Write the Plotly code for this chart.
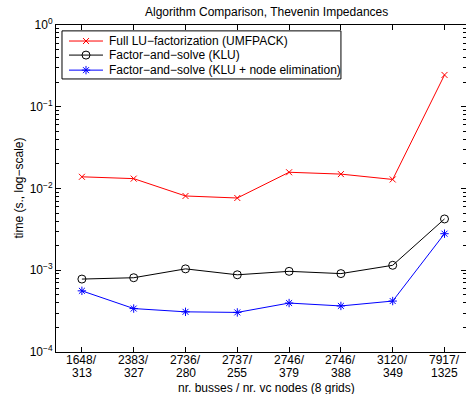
import plotly.graph_objects as go

busses = ["1648/", "2383/", "2736/", "2737/", "2746/", "2746/", "3120/", "7917/"]
vc_nodes = ["313", "327", "280", "255", "379", "388", "349", "1325"]
umfpack = [0.0139, 0.0132, 0.0081, 0.00765, 0.0158, 0.0150, 0.0129, 0.245]
klu = [0.00078, 0.00081, 0.00104, 0.00088, 0.00097, 0.00091, 0.00115, 0.00424]
klu_elim = [0.00056, 0.00034, 0.00031, 0.000305, 0.000397, 0.000366, 0.00042, 0.0028]
series_names = ["Full LU\u2212factorization (UMFPACK)",
                "Factor\u2212and\u2212solve (KLU)",
                "Factor\u2212and\u2212solve (KLU + node elimination)"]
series_colors = ["#ff0000", "#000000", "#0000ff"]
series_symbols = ["x-thin-open", "circle-open", "asterisk-open"]
series_sizes = [6, 8, 7]
ytick_vals = [1e-4, 1e-3, 1e-2, 1e-1, 1]
ytick_text = ["10<sup>\u22124</sup>", "10<sup>\u22123</sup>", "10<sup>\u22122</sup>",
              "10<sup>\u22121</sup>", "10<sup>0</sup>"]
title_text = "Algorithm Comparison, Thevenin Impedances"
xtitle = "nr. busses / nr. vc nodes (8 grids)"
ytitle = "time (s., log\u2212scale)"

xpos = list(range(1, len(busses) + 1))
minor_vals = [m * 10 ** e for e in range(-4, 0) for m in range(2, 10)]
series_values = [umfpack, klu, klu_elim]

fig = go.Figure()
for name, vals, col, sym, sz in zip(series_names, series_values, series_colors,
                                    series_symbols, series_sizes):
    fig.add_trace(go.Scatter(x=xpos, y=vals, name=name, mode="lines+markers",
                             showlegend=False, line=dict(color=col, width=1),
                             marker=dict(symbol=sym, size=sz, color=col,
                                         line=dict(color=col, width=1))))

# compact MATLAB-style legend drawn on an auxiliary overlay axis in paper units
leg_x0, leg_x1, leg_y0, leg_y1 = 0.0146, 0.695, 0.835, 0.982
row_y = [0.951, 0.908, 0.862]
sample_x = [0.0317, 0.0732, 0.1146]
text_x = 0.1244
shapes = [dict(type="rect", xref="paper", yref="paper", x0=leg_x0, x1=leg_x1,
               y0=leg_y0, y1=leg_y1, line=dict(color="black", width=1),
               fillcolor="white", layer="below")]
annotations = []
for name, col, sym, sz, ry in zip(series_names, series_colors, series_symbols,
                                  series_sizes, row_y):
    fig.add_trace(go.Scatter(x=sample_x, y=[ry] * 3, xaxis="x2", yaxis="y2",
                             mode="lines", showlegend=False, hoverinfo="skip",
                             line=dict(color=col, width=1)))
    fig.add_trace(go.Scatter(x=[sample_x[1]], y=[ry], xaxis="x2", yaxis="y2",
                             mode="markers", showlegend=False, hoverinfo="skip",
                             marker=dict(symbol=sym, size=sz, color=col,
                                         line=dict(color=col, width=1))))
    annotations.append(dict(text=name, xref="paper", yref="paper", x=text_x, y=ry,
                            xanchor="left", yanchor="middle", showarrow=False,
                            font=dict(size=12)))

annotations += [
    dict(text=title_text, xref="paper", yref="paper", x=0.513, y=1.0, yshift=13,
         xanchor="center", yanchor="middle", showarrow=False, font=dict(size=12)),
    dict(text=xtitle, xref="paper", yref="paper", x=0.513, y=0, yshift=-36,
         xanchor="center", yanchor="middle", showarrow=False, font=dict(size=12)),
    dict(text=ytitle, xref="paper", yref="paper", x=0, xshift=-38, y=0.5,
         xanchor="center", yanchor="middle", textangle=-90, showarrow=False,
         font=dict(size=12)),
]
for xp, top, bottom in zip(xpos, busses, vc_nodes):
    annotations.append(dict(text=top, xref="x", yref="paper", x=xp, y=0, yshift=-7.5,
                            xanchor="center", yanchor="middle", showarrow=False,
                            font=dict(size=12)))
    annotations.append(dict(text=bottom, xref="x", yref="paper", x=xp, y=0, yshift=-20.5,
                            xanchor="center", yanchor="middle", showarrow=False,
                            font=dict(size=12)))

font = "Liberation Sans, Arial, Helvetica, sans-serif"
fig.update_layout(
    width=466, height=394,
    margin=dict(l=56, r=0, t=25, b=42, autoexpand=False),
    paper_bgcolor="white", plot_bgcolor="white",
    font=dict(family=font, size=12, color="black"),
    showlegend=False,
    xaxis=dict(range=[0.5, 8.415], tickmode="array", tickvals=xpos, showticklabels=False,
               ticks="inside", ticklen=5, tickcolor="black", showline=True, linecolor="black",
               linewidth=1, mirror="ticks", showgrid=False, zeroline=False,
               automargin=False),
    yaxis=dict(type="log", range=[-4, 0], tickmode="array", tickvals=ytick_vals,
               ticktext=ytick_text, ticks="inside", ticklen=5, tickcolor="black",
               showline=True, linecolor="black", linewidth=1, mirror="ticks",
               showgrid=False, zeroline=False, automargin=False,
               minor=dict(tickmode="array", tickvals=minor_vals, ticks="inside",
                          ticklen=3, tickcolor="black", showgrid=False),
               tickfont=dict(size=12)),
    xaxis2=dict(range=[0, 1], overlaying="x", visible=False, fixedrange=True),
    yaxis2=dict(range=[0, 1], overlaying="y", visible=False, fixedrange=True),
    shapes=shapes,
    annotations=annotations,
)

fig.write_html("out.html", config={"displayModeBar": False},
               post_script="document.body.style.margin='0';document.body.style.overflow='hidden';")
